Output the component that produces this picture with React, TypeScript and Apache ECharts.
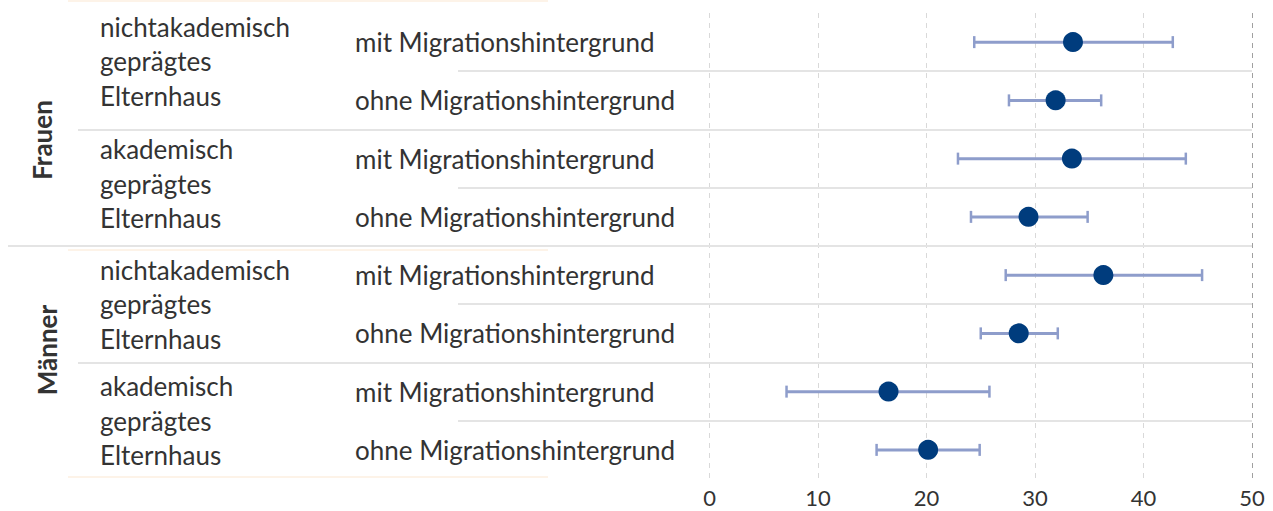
import React, { useEffect, useRef } from "react";
import * as echarts from "echarts";

const groupLabels = ["Frauen", "Männer"];
const backgroundLabels = [
  "nichtakademisch\ngeprägtes\nElternhaus",
  "akademisch\ngeprägtes\nElternhaus",
  "nichtakademisch\ngeprägtes\nElternhaus",
  "akademisch\ngeprägtes\nElternhaus",
];
const rowLabels = [
  "mit Migrationshintergrund",
  "ohne Migrationshintergrund",
  "mit Migrationshintergrund",
  "ohne Migrationshintergrund",
  "mit Migrationshintergrund",
  "ohne Migrationshintergrund",
  "mit Migrationshintergrund",
  "ohne Migrationshintergrund",
];
const estimates = [33.5, 31.9, 33.4, 29.4, 36.3, 28.5, 16.5, 20.15];
const lower = [24.4, 27.6, 22.9, 24.1, 27.3, 25.0, 7.1, 15.4];
const upper = [42.7, 36.1, 43.9, 34.85, 45.4, 32.1, 25.8, 24.9];
const xTicks = [0, 10, 20, 30, 40, 50];
// separator after row i; level 0 = within pair, 1 = between backgrounds, 2 = between genders
const separatorAfter = [0, 1, 2, 3, 4, 5, 6];
const separatorLevel = [0, 1, 0, 2, 0, 1, 0];

const FONT = "Lato, 'Noto Sans', sans-serif";
const TEXT = "#333333";
const FS = 26;

export default function App() {
  const ref = useRef<HTMLDivElement>(null);
  useEffect(() => {
    if (!ref.current) return;
    const chart = echarts.init(ref.current, null, { renderer: "svg" });
    const rowIds = rowLabels.map((_, i) => "r" + i);
    const bgIds = backgroundLabels.map((_, i) => "b" + i);
    const bgShift = [10, 4, 0, 0];
    const sepLeft = [458, 78, 8];
    const AXIS_X = 709.5;

    chart.setOption({
      animation: false,
      grid: {
        left: AXIS_X,
        right: 21,
        top: 13,
        bottom: 32,
        containLabel: false,
        outerBoundsMode: "none",
      },
      xAxis: {
        type: "value",
        min: xTicks[0],
        max: xTicks[xTicks.length - 1],
        interval: 10,
        axisLine: { show: false },
        axisTick: { show: false },
        axisLabel: { color: TEXT, fontSize: 22, fontFamily: FONT, margin: 7 },
        splitLine: {
          show: true,
          lineStyle: {
            type: [5, 5],
            width: 1,
            color: ["#d9d9d9", "#d9d9d9", "#d9d9d9", "#d9d9d9", "#d9d9d9", "#a0a0a0"],
          },
        },
      },
      yAxis: [
        {
          type: "category",
          data: rowIds,
          inverse: true,
          axisLine: { show: false },
          axisTick: { show: false },
          splitLine: { show: false },
          axisLabel: {
            interval: 0,
            color: TEXT,
            fontSize: FS,
            fontFamily: FONT,
            align: "left",
            margin: AXIS_X - 355,
            formatter: (v: string) => rowLabels[Number(v.slice(1))],
            padding: [4, 0, 0, 0],
          },
        },
        {
          type: "category",
          data: bgIds,
          inverse: true,
          show: false,
        },
      ],
      graphic: [
        {
          type: "text",
          x: 42,
          y: 140,
          rotation: Math.PI / 2,
          style: {
            text: groupLabels[0],
            fill: TEXT,
            font: `bold ${FS}px ${FONT}`,
            align: "center",
            verticalAlign: "middle",
          },
        },
        {
          type: "text",
          x: 47,
          y: 350,
          rotation: Math.PI / 2,
          style: {
            text: groupLabels[1],
            fill: TEXT,
            font: `bold ${FS}px ${FONT}`,
            align: "center",
            verticalAlign: "middle",
          },
        },
        { type: "line", shape: { x1: 68, y1: 1, x2: 548, y2: 1 }, style: { stroke: "#fdf3e8", lineWidth: 2 } },
        { type: "line", shape: { x1: 68, y1: 250, x2: 548, y2: 250 }, style: { stroke: "#fdf3e8", lineWidth: 2 } },
        { type: "line", shape: { x1: 68, y1: 477, x2: 548, y2: 477 }, style: { stroke: "#fdf3e8", lineWidth: 2 } },
      ],
      series: [
        {
          type: "custom",
          name: "backgrounds",
          clip: false,
          silent: true,
          yAxisIndex: 1,
          z: 2,
          encode: { x: 0, y: 1 },
          data: bgIds.map((_, i) => [0, i, bgShift[i]]),
          renderItem: (params: any, api: any) => {
            const i = api.value(1);
            const c = api.coord([0, i]);
            return {
              type: "text",
              x: 100,
              y: c[1] - api.value(2),
              style: {
                text: backgroundLabels[i],
                fill: TEXT,
                font: `${FS}px ${FONT}`,
                lineHeight: 34.5,
                align: "left",
                verticalAlign: "middle",
              },
            };
          },
        },
        {
          type: "custom",
          name: "separators",
          clip: false,
          silent: true,
          z: 1,
          encode: { x: 0, y: 1 },
          data: separatorAfter.map((r, i) => [0, r, separatorLevel[i]]),
          renderItem: (params: any, api: any) => {
            const r = api.value(1);
            const lvl = api.value(2);
            const a = api.coord([0, r]);
            const b = api.coord([0, r + 1]);
            const right = api.coord([xTicks[xTicks.length - 1], r])[0];
            const y = Math.round((a[1] + b[1]) / 2);
            return {
              type: "line",
              shape: { x1: sepLeft[lvl], y1: y, x2: right, y2: y },
              style: { stroke: "#e4e4e4", lineWidth: 2 },
            };
          },
        },
        {
          type: "custom",
          name: "ci",
          z: 3,
          clip: false,
          encode: { x: [0, 1], y: 2 },
          data: lower.map((l, i) => [l, upper[i], i]),
          renderItem: (params: any, api: any) => {
            const p1 = api.coord([api.value(0), api.value(2)]);
            const p2 = api.coord([api.value(1), api.value(2)]);
            const h = 6;
            const style = { stroke: "#8e9dcb", lineWidth: 3 };
            return {
              type: "group",
              children: [
                { type: "line", shape: { x1: p1[0], y1: p1[1], x2: p2[0], y2: p2[1] }, style },
                { type: "line", shape: { x1: p1[0], y1: p1[1] - h, x2: p1[0], y2: p1[1] + h }, style: { ...style, lineWidth: 2.5 } },
                { type: "line", shape: { x1: p2[0], y1: p2[1] - h, x2: p2[0], y2: p2[1] + h }, style: { ...style, lineWidth: 2.5 } },
              ],
            };
          },
        },
        {
          type: "scatter",
          name: "estimate",
          z: 4,
          symbol: "circle",
          symbolSize: 20,
          itemStyle: { color: "#003c7d", opacity: 1 },
          data: estimates.map((e, i) => [e, i]),
        },
      ],
    });
    return () => chart.dispose();
  }, []);
  return (
    <div
      ref={ref}
      style={{ position: "absolute", left: 0, top: 0, width: 1273, height: 511, background: "#fff" }}
    />
  );
}
